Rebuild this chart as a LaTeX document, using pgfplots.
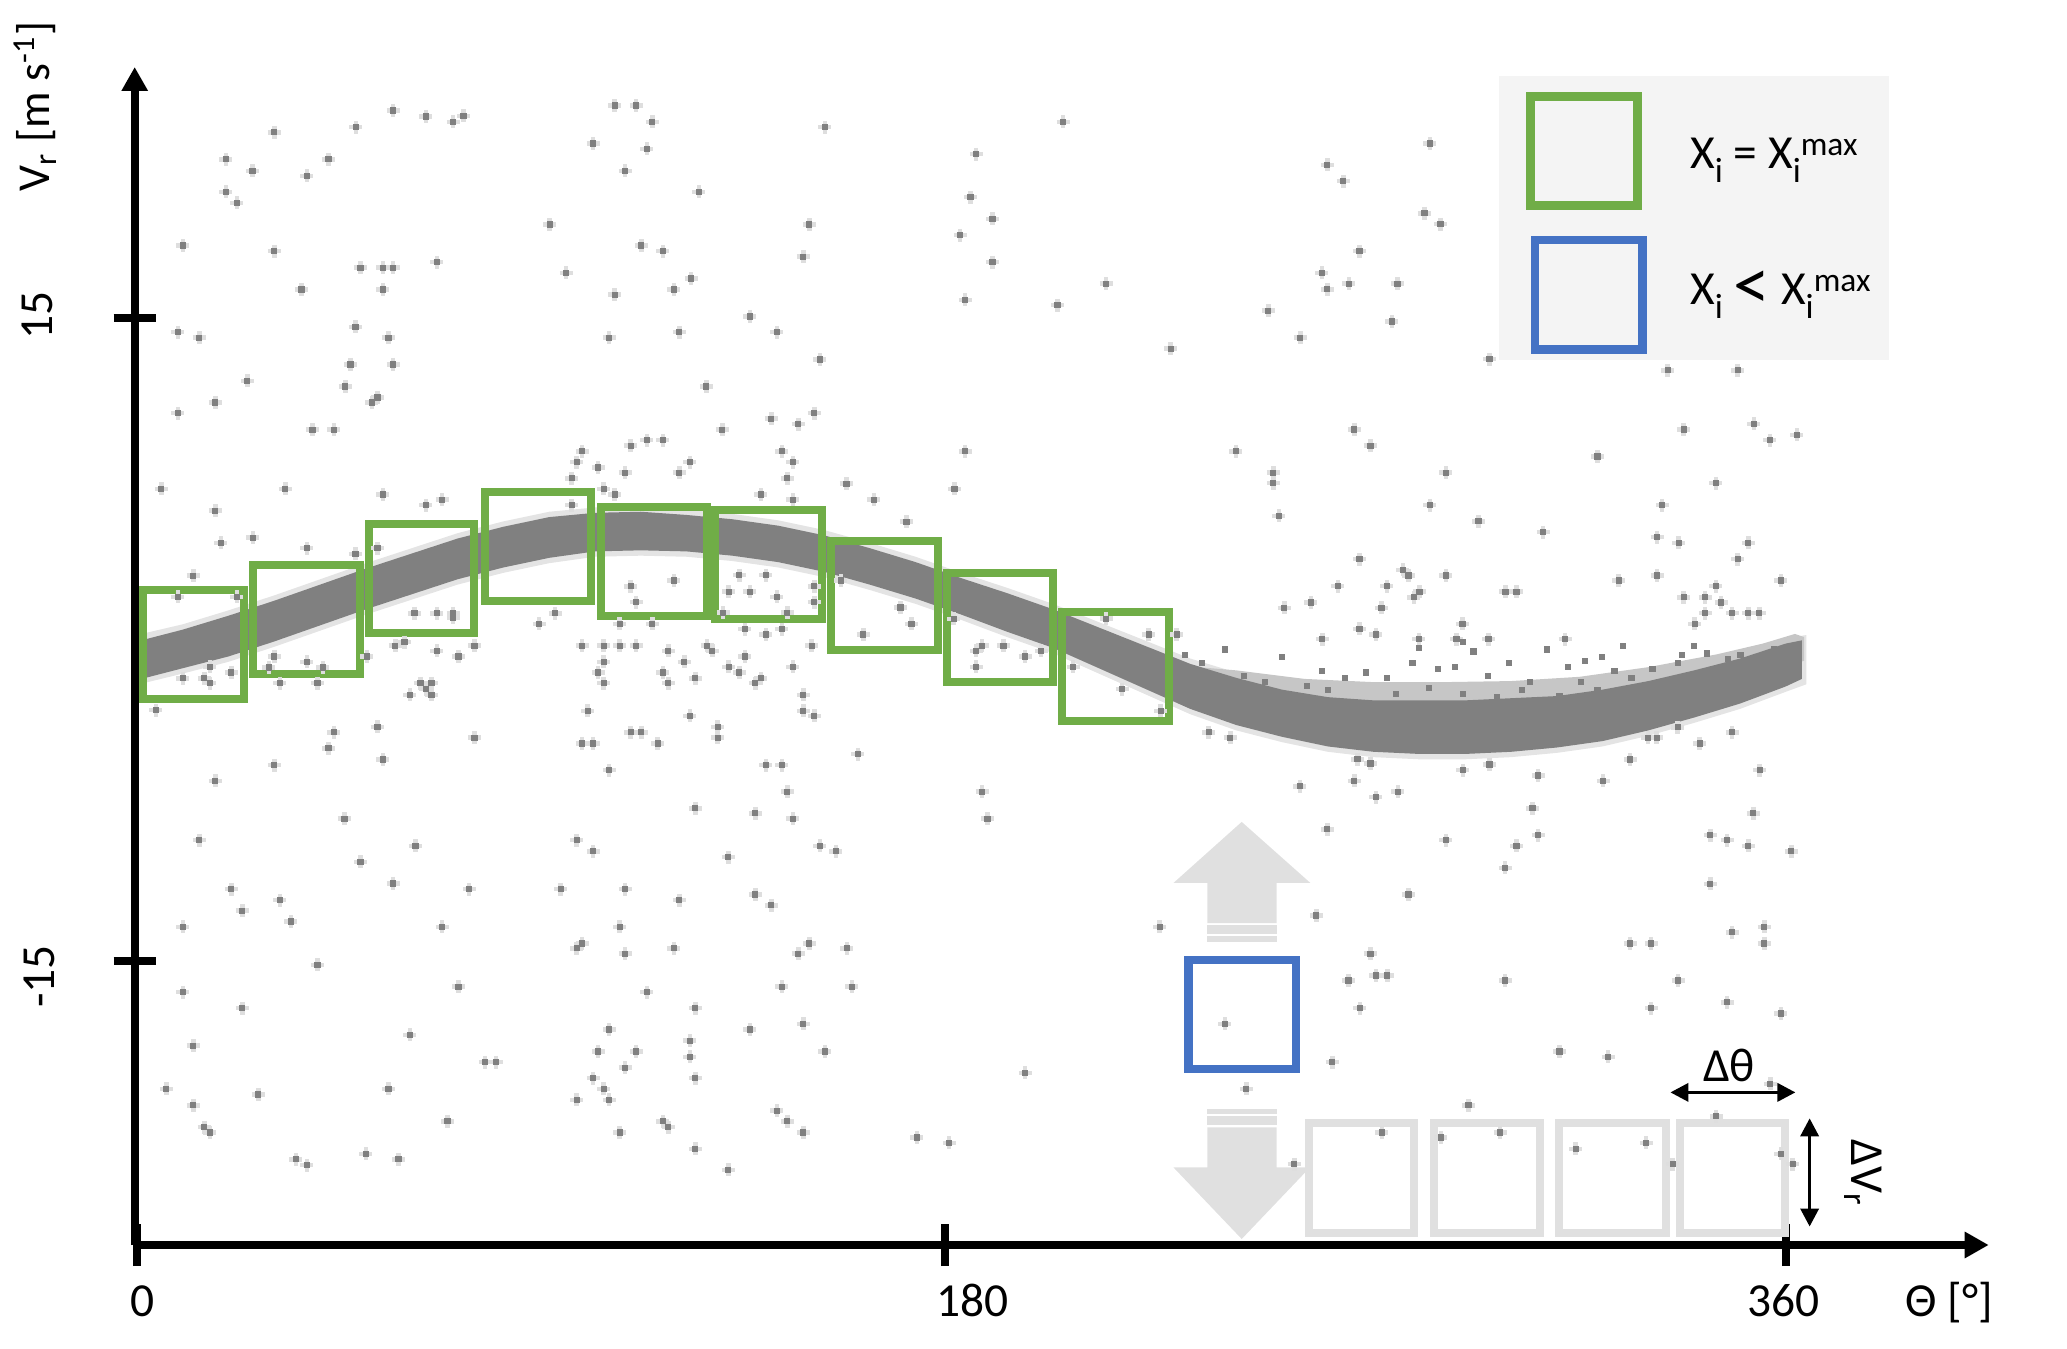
\documentclass[border=0pt]{standalone}
\usepackage{fontspec}
\setmainfont{Carlito}
\usepackage{graphicx}
\usepackage{pgfplots}
\pgfplotsset{compat=1.18}
\usepackage{pgfplotstable}
\usetikzlibrary{arrows.meta}
\definecolor{pgreen}{RGB}{112,173,71}
\definecolor{pblue}{RGB}{68,114,196}
\definecolor{lgray}{RGB}{224,224,224}
\definecolor{legbg}{RGB}{244,244,244}
\definecolor{dotgray}{RGB}{128,128,128}
\definecolor{halo}{RGB}{222,222,222}
\definecolor{bandhalo}{RGB}{228,228,228}
\definecolor{fringe}{RGB}{198,198,198}
\newcommand{\lsub}[1]{\raisebox{-1.4mm}{\fontsize{10}{10}\selectfont #1}}
\newcommand{\lsup}[1]{\raisebox{1.3mm}{\fontsize{9.5}{10}\selectfont #1}}

% isolated points
\pgfplotstableread{
t v
55.9 24.67
63.1 24.39
69.0 24.14
71.3 24.42
30.0 23.65
47.8 23.90
104.3 24.90
109.0 24.90
112.5 24.14
99.6 23.13
111.3 22.88
19.4 22.39
41.8 22.39
25.2 21.85
37.1 21.62
106.6 21.85
19.4 20.87
21.8 20.36
122.7 20.87
90.1 19.35
10.0 18.37
30.0 18.11
110.1 18.37
114.8 18.11
48.8 17.34
53.7 17.34
55.9 17.34
65.5 17.60
93.7 17.09
121.0 16.83
35.9 16.32
53.7 16.32
104.3 16.08
117.2 16.32
8.9 14.33
13.6 14.07
47.7 14.57
54.9 14.07
103.1 14.07
118.4 14.33
46.6 12.82
55.9 12.82
24.1 12.05
45.5 11.79
52.5 11.28
51.3 11.05
17.1 11.05
8.9 10.55
38.3 9.78
43.0 9.78
111.3 9.29
114.8 9.29
107.8 9.03
97.2 8.77
96.0 8.27
100.7 8.01
106.6 7.77
120.7 8.27
118.4 7.77
94.9 7.51
5.3 7.02
32.4 7.02
53.7 6.75
66.6 6.51
63.1 6.26
101.9 7.02
104.3 6.75
17.1 6.00
18.3 4.50
25.3 4.74
37.1 4.25
47.7 3.99
12.3 2.97
52.5 4.25
60.6 1.21
65.5 1.21
69.0 1.21
69.0 1.00
91.3 1.21
87.8 0.72
105.4 0.72
112.5 0.72
109.0 1.73
107.8 2.47
117.2 2.74
8.9 1.98
21.8 1.98
94.9 6.26
150.2 23.90
202.2 24.14
183.2 22.64
182.0 20.63
186.8 19.61
146.8 19.35
179.7 18.86
145.5 17.85
186.8 17.60
211.6 16.59
180.8 15.83
201.0 15.59
133.8 15.06
139.7 14.33
225.7 13.56
149.1 13.05
124.3 11.79
138.5 10.29
144.4 10.04
147.9 10.55
127.8 9.78
140.8 8.77
143.2 8.27
180.8 8.77
239.9 8.77
142.0 7.51
154.9 7.26
178.5 7.02
136.2 6.75
143.2 6.51
160.9 6.51
168.0 5.49
137.3 2.99
131.5 2.99
129.2 2.22
133.8 2.22
139.7 1.98
147.9 2.47
147.9 1.73
128.0 1.24
142.0 1.24
153.7 2.74
166.7 1.48
169.1 0.72
158.6 0.22
132.7 0.47
140.8 0.47
137.3 0.22
227.0 0.22
211.6 0.96
220.9 0.22
178.3 0.95
282.3 23.13
259.9 22.13
263.4 21.37
281.1 19.87
284.6 19.37
266.9 18.11
258.7 17.09
259.9 16.33
264.6 16.59
275.2 16.59
247.0 15.33
274.0 14.83
254.0 14.07
295.3 13.07
334.2 12.55
349.5 12.55
265.8 9.79
269.3 9.03
248.1 7.77
248.1 7.29
285.8 7.77
318.9 8.53
337.7 9.79
353.0 10.05
356.5 9.29
362.4 9.54
344.7 7.29
249.3 5.76
282.3 6.26
292.9 5.50
307.0 5.00
333.0 6.26
331.9 4.76
336.6 4.50
351.8 4.50
349.5 3.74
266.9 3.74
276.4 3.24
277.6 2.98
285.8 2.98
262.2 2.48
272.9 2.48
280.0 2.22
278.8 1.96
298.8 2.22
301.2 2.22
323.5 2.74
331.9 2.98
344.7 2.48
358.9 2.74
250.5 1.47
256.3 1.72
271.7 1.47
337.7 1.96
342.4 1.96
345.9 1.72
342.4 1.22
348.3 1.22
351.8 1.22
354.2 1.22
340.1 0.72
289.4 0.72
266.9 0.48
270.5 0.22
258.8 0.01
279.9 0.01
288.1 0.01
295.1 0.01
311.8 0.01
4.1 -3.30
43.0 -4.34
52.5 -4.09
41.8 -5.09
53.7 -5.61
30.0 -5.87
17.1 -6.61
73.7 -4.59
65.5 -0.54
70.2 -0.80
73.7 -0.30
56.4 -0.30
58.4 -0.13
61.9 -2.05
64.3 -2.05
63.1 -2.32
59.6 -2.59
64.3 -2.59
50.2 -0.80
97.2 -0.30
101.9 -0.30
105.4 -0.30
109.0 -0.30
116.0 -0.54
101.9 -1.05
119.5 -1.05
100.7 -1.55
114.8 -1.55
101.9 -2.05
116.0 -2.05
121.9 -1.82
98.4 -3.34
120.7 -3.57
97.2 -4.86
99.6 -4.86
107.8 -4.34
110.1 -4.34
113.7 -4.86
103.1 -6.11
121.9 -7.89
45.3 -8.37
13.6 -9.37
60.8 -9.64
48.8 -10.39
96.0 -9.37
99.6 -9.89
55.9 -11.39
20.6 -11.66
72.5 -11.66
92.5 -11.66
106.6 -11.66
118.4 -12.17
31.2 -12.17
23.0 -12.66
33.6 -13.17
10.0 -13.42
66.6 -13.42
105.4 -13.42
97.2 -14.19
96.0 -14.42
106.6 -14.67
117.2 -14.42
39.4 -15.19
70.2 -16.21
111.3 -16.46
10.0 -16.46
23.0 -17.21
121.9 -17.21
59.6 -18.46
103.1 -18.21
12.3 -18.96
76.0 -19.73
78.4 -19.73
100.7 -19.23
109.0 -19.23
120.7 -18.73
120.7 -19.48
106.6 -19.99
99.6 -20.48
121.9 -20.48
6.4 -20.98
26.5 -21.24
54.9 -20.98
101.9 -20.98
12.3 -21.74
96.0 -21.49
103.1 -21.49
14.7 -22.76
15.9 -23.01
67.8 -22.49
114.8 -22.49
116.0 -22.76
105.4 -23.01
121.9 -23.78
34.7 -24.26
37.1 -24.53
50.0 -24.01
57.1 -24.26
15.9 -1.29
20.6 -1.55
14.7 -1.82
15.9 -2.05
30.0 -0.80
37.1 -1.05
40.6 -1.32
28.8 -1.32
31.2 -2.05
39.4 -2.05
10.0 -1.82
124.5 -0.30
125.6 -0.54
132.7 -0.80
129.2 -1.29
131.5 -1.55
136.2 -1.82
135.0 -2.05
143.2 -1.29
147.3 -0.30
145.5 -2.59
145.5 -3.34
147.9 -3.57
126.8 -4.09
126.8 -4.59
157.4 -5.36
137.3 -5.87
140.8 -5.87
142.0 -7.11
135.0 -8.12
143.2 -8.37
184.5 -7.11
185.7 -8.37
149.1 -9.64
152.6 -9.89
129.1 -10.16
135.0 -11.91
138.5 -12.41
146.8 -14.19
144.4 -14.67
155.0 -14.42
140.8 -16.21
156.1 -16.21
133.8 -18.21
145.5 -17.94
150.2 -19.23
193.9 -20.23
139.7 -21.99
142.0 -22.49
145.5 -23.01
170.3 -23.24
177.3 -23.49
129.1 -24.76
223.3 -13.42
237.5 -17.94
242.2 -20.98
183.2 -0.54
184.5 -0.30
189.2 -0.30
193.9 -0.80
183.2 -1.29
197.4 -0.54
204.4 -1.29
215.1 -2.32
223.5 -3.34
234.0 -4.34
238.7 -4.59
253.9 -6.86
265.8 -6.61
270.5 -7.36
275.3 -7.11
289.5 -6.11
295.3 -5.84
305.9 -6.36
320.1 -6.61
326.0 -5.61
354.3 -6.11
304.7 -7.89
352.9 -8.12
259.9 -8.87
285.8 -9.37
301.2 -9.64
305.9 -9.14
343.5 -9.14
347.2 -9.37
351.8 -9.64
361.2 -9.89
298.7 -10.66
343.5 -11.41
277.6 -11.91
257.5 -12.89
348.3 -13.67
355.3 -13.42
355.3 -14.19
326.0 -14.19
330.6 -14.19
269.3 -14.67
264.5 -15.92
270.5 -15.69
273.0 -15.69
298.7 -15.92
336.5 -15.92
267.0 -17.21
330.6 -17.21
347.2 -16.94
358.9 -17.46
261.0 -19.73
310.6 -19.23
321.2 -19.48
356.6 -20.74
290.7 -21.74
344.8 -22.26
271.8 -23.01
297.6 -23.01
284.7 -23.24
314.1 -23.78
329.5 -23.49
358.9 -24.01
361.5 -24.49
252.7 -24.49
335.3 -24.49
336.4 -4.11
341.2 -4.86
348.3 -4.34
329.9 -4.59
331.8 -4.59
266.5 -5.60
269.3 -5.80
}\pts

% points in the noisy upper edge of the trough
\pgfplotstableread{
t v
237.6 -0.48
250.0 -0.84
258.7 -1.47
263.8 -1.82
268.4 -1.55
273.0 -1.82
278.5 -1.11
284.0 -1.38
287.7 -1.29
291.8 -0.57
295.0 -1.73
299.6 -1.11
304.2 -2.00
307.9 -0.48
312.5 -1.29
316.2 -1.02
319.8 -0.84
322.6 -1.47
326.3 -1.82
330.9 -1.38
336.4 -1.11
340.0 -0.30
342.8 -0.66
347.4 -0.93
350.1 -0.75
353.8 -1.29
357.5 -0.48
360.3 -0.75
260.1 -2.36
274.8 -2.54
282.1 -2.27
289.5 -2.54
296.9 -2.71
302.4 -2.36
310.6 -2.63
318.9 -2.36
328.1 -2.54
334.5 -2.18
345.6 -2.00
352.0 -1.82
255.5 -2.18
246.3 -2.00
241.7 -1.73
232.5 -1.11
228.9 -0.75
315.2 -2.00
324.4 -0.30
279.9 -0.39
289.5 -0.13
337.3 -0.75
}\ptsb

\begin{document}
\begin{tikzpicture}
\path[use as bounding box] (0,0) rectangle (206.7mm,134.8mm);
\begin{axis}[
  at={(13.47mm,10.3mm)}, anchor=south west,
  scale only axis, width=185.4mm, height=117.8mm,
  xmin=-0.5, xmax=404.3, ymin=-28.26, ymax=26.7,
  axis lines=left,
  axis line style={line width=0.8mm, black, -{Triangle[width=2.5mm,length=2.4mm]}},
  xtick={0,176.4,360}, ytick={-15,15},
  xticklabels={,,}, yticklabels={,},
  major tick length=4.2mm, tick align=center,
  tick style={line width=0.8mm, black},
  clip=false,
]
% band halo
\addplot[draw=none, fill=bandhalo] coordinates {
(1,0.25) (10,0.7) (20,1.35) (30,2.05) (40,2.8) (50,3.55) (60,4.25) (70,4.95) (80,5.5) (90,5.95) (100,6.15) (110,6.2) (120,6.05) (130,5.85) (140,5.55) (150,5.1) (160,4.5) (170,3.85) (180,3.1) (190,2.4) (200,1.65) (210,0.8) (220,-0.05) (230,-0.9) (240,-1.55) (250,-2.1) (260,-2.45) (270,-2.6) (280,-2.6) (290,-2.6) (300,-2.5) (310,-2.4) (320,-2.1) (330,-1.7) (340,-1.2) (350,-0.65) (360,0.05) (364.5,0.2)
(364.5,-2.1) (360,-2.45) (350,-3.25) (340,-3.9) (330,-4.5) (320,-5.0) (310,-5.3) (300,-5.5) (290,-5.6) (280,-5.6) (270,-5.5) (260,-5.25) (250,-4.8) (240,-4.25) (230,-3.5) (220,-2.55) (210,-1.6) (200,-0.65) (190,0.1) (180,0.9) (170,1.65) (160,2.3) (150,2.9) (140,3.35) (130,3.65) (120,3.85) (110,3.9) (100,3.85) (90,3.55) (80,3.1) (70,2.55) (60,1.85) (50,1.15) (40,0.4) (30,-0.35) (20,-1.05) (10,-1.6) (1,-2.07)};
% upper fringe of the trough
\addplot[draw=none, fill=fringe] coordinates {
(226,-1.2) (240,-1.45) (255,-1.85) (270,-2.0) (285,-2.0) (300,-1.95) (315,-1.75) (330,-1.3) (345,-0.7) (355,-0.2) (362,0.25) (364,0.1)
(364,-1.0) (350,-2.0) (330,-3.1) (300,-4.0) (270,-4.05) (240,-2.9) (226,-1.8)};
% dense band
\addplot[draw=none, fill=dotgray] coordinates {
(1.5,-0.02) (10,0.45) (20,1.1) (30,1.8) (40,2.55) (50,3.3) (60,4.0) (70,4.7) (80,5.25) (90,5.7) (100,5.9) (110,5.95) (120,5.8) (130,5.6) (140,5.3) (150,4.85) (160,4.25) (170,3.6) (180,2.85) (190,2.15) (200,1.4) (210,0.55) (220,-0.3) (230,-1.15) (240,-1.8) (250,-2.35) (260,-2.7) (270,-2.85) (280,-2.85) (290,-2.85) (300,-2.75) (310,-2.65) (320,-2.35) (330,-1.95) (340,-1.45) (350,-0.9) (360,-0.2) (363.5,-0.05)
(363.5,-1.85) (360,-2.2) (350,-3.0) (340,-3.65) (330,-4.25) (320,-4.75) (310,-5.05) (300,-5.25) (290,-5.35) (280,-5.35) (270,-5.25) (260,-5.0) (250,-4.55) (240,-4.0) (230,-3.25) (220,-2.3) (210,-1.35) (200,-0.4) (190,0.35) (180,1.15) (170,1.9) (160,2.55) (150,3.15) (140,3.6) (130,3.9) (120,4.1) (110,4.15) (100,4.1) (90,3.8) (80,3.35) (70,2.8) (60,2.1) (50,1.4) (40,0.65) (30,-0.1) (20,-0.8) (10,-1.35) (1.5,-1.82)};
% scattered points: soft halo, then the dots
\addplot[only marks, mark=+, mark size=0.65mm, mark options={line width=0.45mm, draw=halo}] table[x=t,y=v] {\pts};
\addplot[only marks, mark=square*, mark size=0.26mm, mark options={draw=dotgray, fill=dotgray, line width=0pt}] table[x=t,y=v] {\pts};
\addplot[only marks, mark=square*, mark size=0.26mm, mark options={draw=dotgray, fill=dotgray, line width=0pt}] table[x=t,y=v] {\ptsb};
% green windows
\begin{scope}[draw=pgreen, line width=0.8mm]
\draw (axis cs:1.3,-2.77) rectangle (axis cs:23.3,2.31);
\draw (axis cs:25.4,-1.62) rectangle (axis cs:48.7,3.46);
\draw (axis cs:50.7,0.30) rectangle (axis cs:73.5,5.38);
\draw (axis cs:76.0,1.78) rectangle (axis cs:99.1,6.86);
\draw (axis cs:101.3,1.09) rectangle (axis cs:124.4,6.17);
\draw (axis cs:126.2,0.96) rectangle (axis cs:149.5,6.04);
\draw (axis cs:151.5,-0.50) rectangle (axis cs:174.8,4.58);
\draw (axis cs:176.9,-1.99) rectangle (axis cs:200.0,3.09);
\draw (axis cs:202.0,-3.81) rectangle (axis cs:225.3,1.27);
\end{scope}
% legend
\fill[legbg] (axis cs:297.4,13.04) rectangle (axis cs:382.5,26.29);
\draw[pgreen, line width=0.86mm] (axis cs:304.2,20.23) rectangle (axis cs:327.6,25.31);
\draw[pblue, line width=0.86mm] (axis cs:305.2,13.53) rectangle (axis cs:328.7,18.63);
\node[anchor=base west, inner sep=0pt, font=\fontsize{13.5}{16}\selectfont] at (axis cs:339.0,21.98) {X\lsub{i} = X\lsub{i}\lsup{max}};
\node[anchor=base west, inner sep=0pt, font=\fontsize{13.5}{16}\selectfont] at (axis cs:339.0,15.64) {X\lsub{i} \raisebox{-0.55mm}{\scalebox{1.55}{<}} X\lsub{i}\lsup{max}};
% light grey arrows
\fill[lgray] (axis cs:241.2,-8.52) -- (axis cs:256.2,-11.37) -- (axis cs:248.8,-11.37) -- (axis cs:248.8,-13.24) -- (axis cs:233.7,-13.24) -- (axis cs:233.7,-11.37) -- (axis cs:226.3,-11.37) -- cycle;
\fill[lgray] (axis cs:233.7,-13.35) rectangle (axis cs:248.8,-13.75);
\fill[lgray] (axis cs:233.7,-13.84) rectangle (axis cs:248.8,-14.14);
\fill[lgray] (axis cs:233.7,-21.90) rectangle (axis cs:248.8,-22.17);
\fill[lgray] (axis cs:233.7,-22.26) rectangle (axis cs:248.8,-22.67);
\fill[lgray] (axis cs:233.7,-22.77) -- (axis cs:248.8,-22.77) -- (axis cs:248.8,-24.64) -- (axis cs:256.1,-24.64) -- (axis cs:241.2,-27.98) -- (axis cs:226.3,-24.64) -- (axis cs:233.7,-24.64) -- cycle;
% blue window
\draw[pblue, line width=0.84mm] (axis cs:229.6,-20.04) rectangle (axis cs:253.0,-14.96);
% grey windows
\begin{scope}[draw=lgray, line width=0.8mm]
\draw (axis cs:255.8,-27.69) rectangle (axis cs:278.9,-22.59);
\draw (axis cs:283.1,-27.69) rectangle (axis cs:306.4,-22.59);
\draw (axis cs:310.4,-27.69) rectangle (axis cs:333.8,-22.59);
\draw (axis cs:336.8,-27.69) rectangle (axis cs:359.9,-22.59);
\end{scope}
% dimension arrows
\draw[line width=0.35mm, {Triangle[width=1.8mm,length=1.8mm]}-{Triangle[width=1.8mm,length=1.8mm]}] (axis cs:334.8,-21.14) -- (axis cs:362.1,-21.14);
\draw[line width=0.35mm, {Triangle[width=1.8mm,length=1.8mm]}-{Triangle[width=1.8mm,length=1.8mm]}] (axis cs:365.2,-22.35) -- (axis cs:365.2,-27.40);
\node[anchor=base, inner sep=0pt, font=\fontsize{13.5}{16}\selectfont] at (axis cs:347.6,-20.65) {Δθ};
\node[anchor=base, rotate=-90, inner sep=0pt, font=\fontsize{13.5}{16}\selectfont] at (axis cs:374.4,-24.9) {ΔV\textsubscript{r}};
% tick labels and axis labels
\node[anchor=base, inner sep=0pt, font=\fontsize{13.5}{16}\selectfont] at (axis cs:1.2,-31.6) {0};
\node[anchor=base, inner sep=0pt, font=\fontsize{13.5}{16}\selectfont] at (axis cs:182.4,-31.6) {180};
\node[anchor=base, inner sep=0pt, font=\fontsize{13.5}{16}\selectfont] at (axis cs:359.4,-31.6) {360};
\node[anchor=base, inner sep=0pt, font=\fontsize{13.5}{16}\selectfont] at (axis cs:395.7,-31.6) {Θ [°]};
\node[anchor=base, rotate=90, inner sep=0pt, font=\fontsize{13.5}{16}\selectfont] at (axis cs:-18.4,15.1) {15};
\node[anchor=base, rotate=90, inner sep=0pt, font=\fontsize{13.5}{16}\selectfont] at (axis cs:-18.1,-15.74) {-15};
\node[anchor=base, rotate=90, inner sep=0pt, font=\fontsize{13}{16}\selectfont] at (axis cs:-19.0,24.85) {V\textsubscript{r} [m s\textsuperscript{-1}]};
\end{axis}
\end{tikzpicture}
\end{document}
